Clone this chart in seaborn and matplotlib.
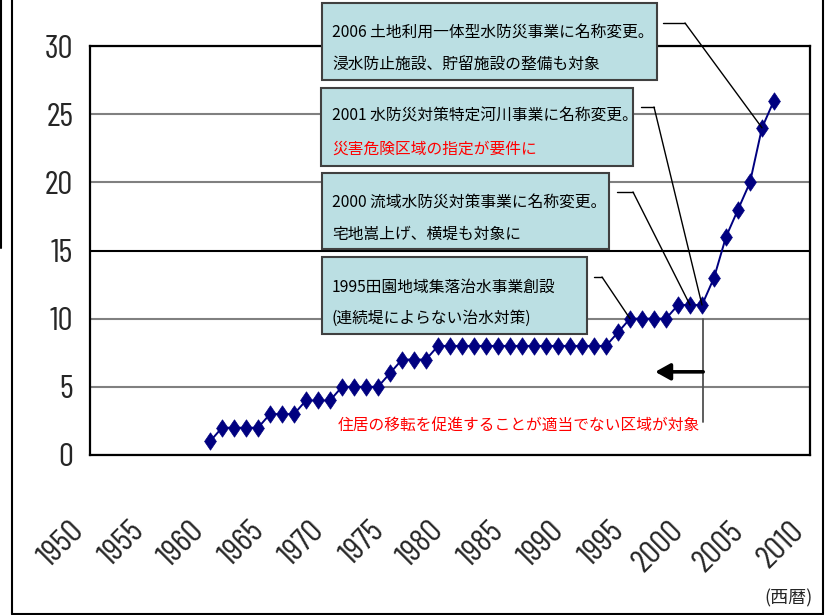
import matplotlib
matplotlib.use("Agg")
import matplotlib.pyplot as plt
from matplotlib.path import Path
from matplotlib.lines import Line2D
from matplotlib.patches import Rectangle
import pandas as pd
import seaborn as sns

# Number of programme sites per year
years = list(range(1960, 2008))
counts = [1, 2, 2, 2, 2, 3, 3, 3, 4, 4, 4, 5, 5, 5, 5, 6, 7, 7, 7,
          8, 8, 8, 8, 8, 8, 8, 8, 8, 8, 8, 8, 8, 8, 8,
          9, 10, 10, 10, 10, 11, 11, 11, 13, 16, 18, 20, 24, 26]

x_ticks = list(range(1950, 2011, 5))
x_labels = [str(v) for v in x_ticks]
y_ticks = [0, 5, 10, 15, 20, 25, 30]
y_labels = [str(v) for v in y_ticks]

# Callout boxes: (year, value, line1, line2, colour of line2)
callouts = [
    (2006, 24, "2006 土地利用一体型水防災事業に名称変更。", "浸水防止施設、貯留施設の整備も対象", "black"),
    (2001, 11, "2001 水防災対策特定河川事業に名称変更。", "災害危険区域の指定が要件に", "#ff0000"),
    (2000, 11, "2000 流域水防災対策事業に名称変更。", "宅地嵩上げ、横堤も対象に", "black"),
    (1995, 10, "1995田園地域集落治水事業創設", "(連続堤によらない治水対策)", "black"),
]
note_text = "住居の移転を促進することが適当でない区域が対象"
unit_text = "(西暦)"

df = pd.DataFrame({"year": years, "count": counts})

W, H = 828, 615
def fx(px):
    return px / W
def fy(py):
    return 1 - py / H

sns.set_style("white")
cjk = ["Noto Sans CJK JP", "DejaVu Sans"]
num_font = ["Barlow Condensed", "DejaVu Sans"]
plt.rcParams["font.family"] = cjk

fig = plt.figure(figsize=(W / 100, H / 100), dpi=100)
fig.patch.set_facecolor("white")
ax = fig.add_axes([fx(90), fy(455), 720 / W, 409 / H])

diamond = Path([(0, 1), (0.68, 0), (0, -1), (-0.68, 0), (0, 1)],
               [Path.MOVETO, Path.LINETO, Path.LINETO, Path.LINETO, Path.CLOSEPOLY])
sns.lineplot(data=df, x="year", y="count", ax=ax, color="#000080", lw=1.4,
             marker=diamond, markersize=12.5, markerfacecolor="#000080",
             markeredgecolor="#000080", markeredgewidth=0.5, zorder=5)

ax.set_xlim(1950, 2010)
ax.set_ylim(0, 30)
ax.set_xlabel("")
ax.set_ylabel("")
ax.set_xticks(x_ticks)
ax.set_xticklabels(x_labels, rotation=45, ha="right", va="top",
                   family=num_font, fontsize=24)
ax.set_yticks(y_ticks)
ax.set_yticklabels(y_labels, family=num_font, fontsize=24)
ax.tick_params(axis="x", direction="in", length=8.5, width=1, color="#606060", pad=44)
ax.tick_params(axis="y", direction="in", length=5, width=1.5, color="black", pad=12)

ax.grid(axis="y", color="#808080", lw=1.5)
ax.grid(axis="x", visible=False)
for i, gl in enumerate(ax.yaxis.get_gridlines()):
    if y_ticks[i] == 15:
        gl.set_color("black")
ax.set_axisbelow(True)
for s in ax.spines.values():
    s.set_visible(True)
    s.set_color("black")
    s.set_linewidth(1.6)

# Marker for the 2001 threshold with leftward arrow
ax.plot([2001.1, 2001.1], [10, 2.4], color="#505050", lw=1.3, zorder=3)
ax.annotate("", xy=(1997.1, 6.1), xytext=(2001.1, 6.1), xycoords="data",
            arrowprops=dict(arrowstyle="-|>,head_length=0.45,head_width=0.25",
                            lw=2.6, color="black", mutation_scale=20,
                            shrinkA=0, shrinkB=0), zorder=6)
ax.text(1985.75, 2.2, note_text, color="#ff0000", fontsize=11.3,
        ha="center", va="center", family=cjk, zorder=6)

# Callout boxes with leader lines
boxes = [(322, 3, 657, 80, 32, 64),
         (321, 88, 633, 166, 116, 149),
         (322, 173, 609, 249, 202, 234),
         (322, 257, 587, 334, 287, 318)]
leaders = [(663, 685, 23), (641, 654, 107), (617, 633, 192), (594, 602, 277)]
for (yr, val, l1, l2, c2), (x0, y0, x1, y1, t1, t2), (lx0, lx1, ly) in zip(callouts, boxes, leaders):
    fig.add_artist(Rectangle((fx(x0), fy(y1)), (x1 - x0) / W, (y1 - y0) / H,
                             transform=fig.transFigure, facecolor="#bbdfe3",
                             edgecolor="#404040", lw=1.5, zorder=10))
    fig.text(fx(332), fy(t1), l1, fontsize=11.3, color="black", ha="left",
             va="center", family=cjk, zorder=11)
    fig.text(fx(332), fy(t2), l2, fontsize=11.3, color=c2, ha="left",
             va="center", family=cjk, zorder=11)
    fig.add_artist(Line2D([fx(lx0), fx(lx1)], [fy(ly), fy(ly)],
                          transform=fig.transFigure, color="black", lw=1.0, zorder=12))
    ax.annotate("", xy=(yr, val), xycoords="data",
                xytext=(fx(lx1), fy(ly)), textcoords="figure fraction",
                arrowprops=dict(arrowstyle="-", color="black", lw=1.0,
                                shrinkA=0, shrinkB=0), zorder=12, annotation_clip=False)

fig.text(fx(789), fy(598), unit_text, fontsize=13, ha="center", va="center",
         family=cjk)

# Outer frame
frame = dict(transform=fig.transFigure, color="black", lw=1.5, zorder=20)
fig.add_artist(Line2D([fx(12), fx(12)], [fy(0), fy(614)], **frame))
fig.add_artist(Line2D([fx(12), fx(823)], [fy(614), fy(614)], **frame))
fig.add_artist(Line2D([fx(823), fx(823)], [fy(0), fy(614)], **frame))
fig.add_artist(Line2D([fx(1.5), fx(1.5)], [fy(0), fy(248)], **frame))

fig.savefig("out.png", dpi=100)
